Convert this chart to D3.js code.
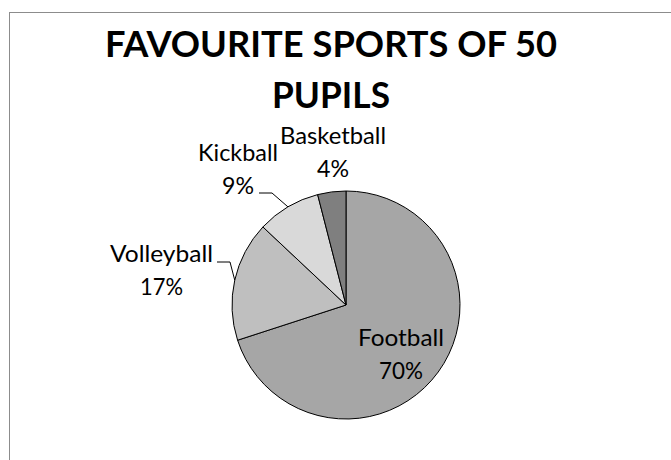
<!DOCTYPE html>
<html>
<head>
<meta charset="utf-8">
<script src="https://cdn.jsdelivr.net/npm/d3@7"></script>
<style>
  html, body { margin: 0; padding: 0; background: #fff; }
  svg { display: block; }
</style>
</head>
<body>
<svg id="chart" width="671" height="460"></svg>
<script>
// ---- data ----
const categories = ["Football", "Volleyball", "Kickball", "Basketball"];
const percents = [70, 17, 9, 4];
const percentLabels = ["70%", "17%", "9%", "4%"];
const titleLines = ["FAVOURITE SPORTS OF 50", "PUPILS"];

// ---- styles / layout ----
const colors = ["#a6a6a6", "#bfbfbf", "#d9d9d9", "#7f7f7f"];
const center = { x: 346, y: 305 };
const radius = 114;
const labelFont = "Lato, 'Open Sans', sans-serif";
// label layout: centre x, baseline of first line, widths of the two lines, optional leader start
const labelLayout = {
  Football:   { x: 401,   y: 346, w1: 86,  w2: 44 },
  Volleyball: { x: 161.5, y: 262, w1: 103, w2: 43, leader: [[217, 262], [230, 262]] },
  Kickball:   { x: 238,   y: 161, w1: 80,  w2: 32, leader: [[259, 193], [272, 193]] },
  Basketball: { x: 333,   y: 144, w1: 106, w2: 32 }
};
const lineGap = 33;

const svg = d3.select("#chart");

// chart area border
svg.append("rect")
  .attr("x", 9.5).attr("y", 12.5)
  .attr("width", 700).attr("height", 500)
  .attr("fill", "#fff")
  .attr("stroke", "#8c8c8c").attr("stroke-width", 1);

// title
const titleWidths = [452, 118];
const titleBase = [57, 108];
svg.append("g").selectAll("text")
  .data(titleLines)
  .join("text")
  .attr("x", 331)
  .attr("y", (d, i) => titleBase[i])
  .attr("text-anchor", "middle")
  .attr("textLength", (d, i) => titleWidths[i])
  .attr("lengthAdjust", "spacingAndGlyphs")
  .style("font-family", labelFont)
  .style("font-weight", "bold")
  .style("font-size", "36px")
  .attr("fill", "#000")
  .text(d => d);

// pie
const data = categories.map((c, i) => ({ name: c, value: percents[i], label: percentLabels[i], color: colors[i] }));
const pie = d3.pie().value(d => d.value).sort(null).startAngle(0).endAngle(2 * Math.PI);
const arcs = pie(data);
const arc = d3.arc().innerRadius(0).outerRadius(radius);

const g = svg.append("g").attr("transform", `translate(${center.x},${center.y})`);
g.selectAll("path")
  .data(arcs)
  .join("path")
  .attr("d", arc)
  .attr("fill", d => d.data.color)
  .attr("stroke", "#000")
  .attr("stroke-width", 1)
  .attr("stroke-linejoin", "round");

// leader lines (end on the outer edge at the slice's mid angle)
arcs.forEach(a => {
  const L = labelLayout[a.data.name];
  if (!L.leader) return;
  const mid = (a.startAngle + a.endAngle) / 2;
  const ex = center.x + radius * Math.sin(mid);
  const ey = center.y - radius * Math.cos(mid);
  const pts = L.leader.concat([[ex, ey]]);
  svg.append("path")
    .attr("d", d3.line()(pts))
    .attr("fill", "none")
    .attr("stroke", "#000")
    .attr("stroke-width", 1);
});

// labels
arcs.forEach(a => {
  const L = labelLayout[a.data.name];
  const lines = [a.data.name, a.data.label];
  const widths = [L.w1, L.w2];
  svg.append("g").selectAll("text")
    .data(lines)
    .join("text")
    .attr("x", L.x)
    .attr("y", (d, i) => L.y + i * lineGap)
    .attr("text-anchor", "middle")
    .attr("textLength", (d, i) => widths[i])
    .attr("lengthAdjust", "spacingAndGlyphs")
    .style("font-family", labelFont)
    .style("font-size", "23px")
    .attr("fill", "#000")
    .text(d => d);
});
</script>
</body>
</html>
